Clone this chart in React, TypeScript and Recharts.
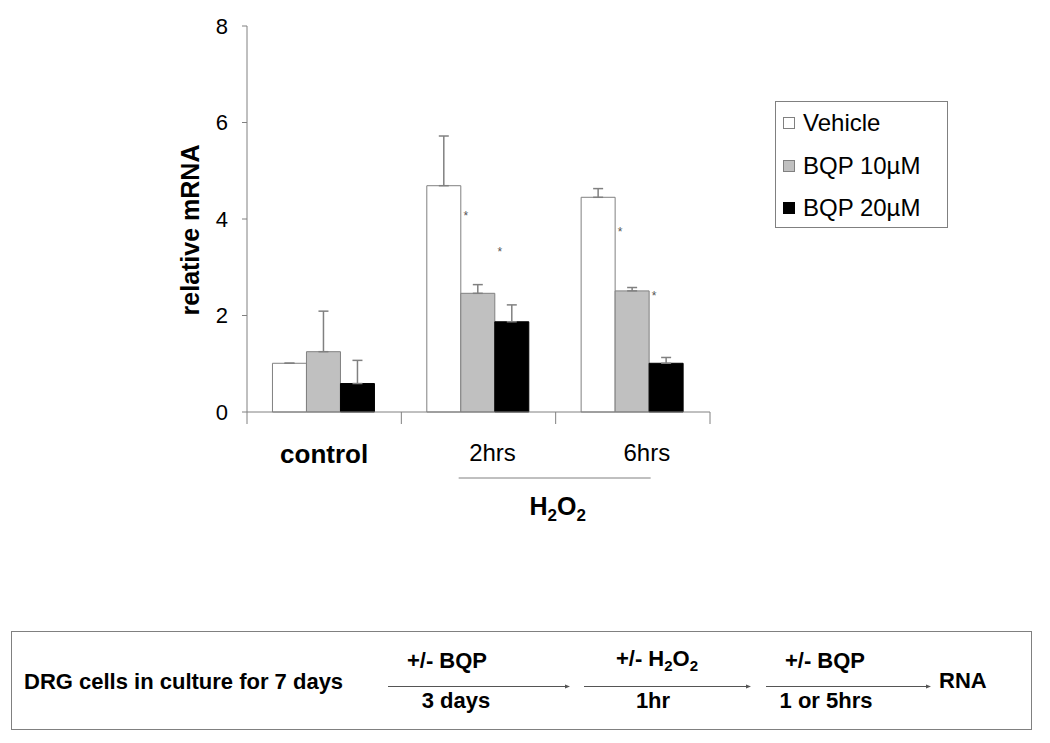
import React from "react";
import { Bar, BarChart, ErrorBar, LabelList, Legend, XAxis, YAxis } from "recharts";

const GROUPS = ["control", "2hrs", "6hrs"];
const VEHICLE = [1.01, 4.69, 4.45];
const VEHICLE_ERR = [0, 1.03, 0.18];
const BQP10 = [1.25, 2.46, 2.51];
const BQP10_ERR = [0.84, 0.18, 0.07];
const BQP20 = [0.59, 1.87, 1.01];
const BQP20_ERR = [0.48, 0.35, 0.12];
// where the significance stars sit, in y units
const VEHICLE_STAR = [null, 4.13, 3.79];
const BQP10_STAR = [null, 3.38, 2.47];
const Y_TICKS = [0, 2, 4, 6, 8];

const AXIS = "#808080";
const FONT = "'Liberation Sans', Arial, sans-serif";
const PLOT_WIDTH = 463;

const SERIES = [
  { key: "vehicle", name: "Vehicle", fill: "#ffffff", stroke: AXIS },
  { key: "bqp10", name: "BQP 10\u00b5M", fill: "#c0c0c0", stroke: AXIS },
  { key: "bqp20", name: "BQP 20\u00b5M", fill: "#000000", stroke: "#000000" },
];

const data = GROUPS.map((group, i) => ({
  group,
  vehicle: VEHICLE[i],
  vehicleErr: [0, VEHICLE_ERR[i]],
  vehicleStar: VEHICLE_STAR[i],
  bqp10: BQP10[i],
  bqp10Err: [0, BQP10_ERR[i]],
  bqp10Star: BQP10_STAR[i],
  bqp20: BQP20[i],
  bqp20Err: [0, BQP20_ERR[i]],
}));

function starRenderer(values: number[]) {
  return (props: any) => {
    const { x, y, width, height, value, index } = props;
    if (value == null) return null;
    const perUnit = height / values[index];
    const sy = y + height - value * perUnit;
    return (
      <text x={x + width + 5} y={sy + 7} textAnchor="middle" fontSize={12} fill="#555">
        *
      </text>
    );
  };
}

function GroupTick(props: any) {
  const { x, y, payload, index, visibleTicksCount } = props;
  const axisWidth = Number(props.width) || PLOT_WIDTH;
  const half = axisWidth / (2 * (visibleTicksCount || GROUPS.length));
  const left = x - half;
  const first = index === 0;
  const last = index === (visibleTicksCount || GROUPS.length) - 1;
  return (
    <g>
      <line x1={left} y1={y} x2={left} y2={y + 12} stroke={AXIS} />
      {last && <line x1={x + half} y1={y} x2={x + half} y2={y + 12} stroke={AXIS} />}
      <text
        x={x + (first ? 0 : 14)}
        y={y + (first ? 51 : 49)}
        textAnchor="middle"
        fontSize={first ? 26 : 24}
        fontWeight={first ? "bold" : "normal"}
        fill="#000"
      >
        {payload.value}
      </text>
      {last && (
        <g>
          <line x1={left - 97} y1={y + 66} x2={left + 95} y2={y + 66} stroke={AXIS} />
          <text x={left + 2} y={y + 103} textAnchor="middle" fontSize={25} fontWeight="bold" fill="#000">
            H<tspan fontSize={17} dy={6}>2</tspan>
            <tspan dy={-6}>O</tspan>
            <tspan fontSize={17} dy={6}>2</tspan>
          </text>
        </g>
      )}
    </g>
  );
}

function ValueTick(props: any) {
  const { x, y, payload } = props;
  return (
    <text x={x} y={y} textAnchor="end" dominantBaseline="central" fontSize={22} fill="#000">
      {payload.value}
    </text>
  );
}

function LegendBox() {
  return (
    <div
      style={{
        boxSizing: "border-box",
        width: 173,
        height: 127,
        border: `1px solid ${AXIS}`,
        background: "#fff",
        position: "relative",
      }}
    >
      {SERIES.map((s, i) => (
        <div
          key={s.key}
          style={{
            position: "absolute",
            left: 7,
            top: 21 + i * 42.5 - 15,
            height: 30,
            display: "flex",
            alignItems: "center",
            whiteSpace: "nowrap",
          }}
        >
          <span
            style={{
              display: "inline-block",
              width: 10,
              height: 10,
              background: s.fill,
              border: `1px solid ${s.stroke}`,
              marginRight: 8,
            }}
          />
          <span style={{ fontSize: 24, color: "#000" }}>{s.name}</span>
        </div>
      ))}
    </div>
  );
}

function Arrow({ x1, x2, y }: { x1: number; x2: number; y: number }) {
  return (
    <g>
      <line x1={x1} y1={y} x2={x2 - 3} y2={y} stroke="#555" />
      <polygon points={`${x2},${y} ${x2 - 5},${y - 2} ${x2 - 5},${y + 2}`} fill="#555" />
    </g>
  );
}

function Protocol() {
  const t = { fontSize: 22, fontWeight: "bold" as const, fill: "#000", textAnchor: "middle" as const };
  return (
    <svg width={1050} height={123} style={{ position: "absolute", left: 0, top: 620 }}>
      <rect x={11.5} y={11.5} width={1020} height={98} fill="#fff" stroke={AXIS} />
      <text x={24} y={69} fontSize={22} fontWeight="bold" fill="#000">
        DRG cells in culture for 7 days
      </text>
      <Arrow x1={388} x2={570} y={66.5} />
      <text {...t} x={447} y={48}>+/- BQP</text>
      <text {...t} x={456} y={88}>3 days</text>
      <Arrow x1={584} x2={751} y={66.5} />
      <text {...t} x={657} y={46}>
        +/- H<tspan fontSize={15} dy={5}>2</tspan>
        <tspan dy={-5}>O</tspan>
        <tspan fontSize={15} dy={5}>2</tspan>
      </text>
      <text {...t} x={653} y={88}>1hr</text>
      <Arrow x1={766} x2={931} y={66.5} />
      <text {...t} x={825} y={48}>+/- BQP</text>
      <text {...t} x={826} y={88}>1 or 5hrs</text>
      <text x={939} y={68} fontSize={22} fontWeight="bold" fill="#000">
        RNA
      </text>
    </svg>
  );
}

export default function App() {
  return (
    <div
      style={{
        position: "absolute",
        left: 0,
        top: 0,
        width: 1050,
        height: 743,
        background: "#fff",
        fontFamily: FONT,
      }}
    >
      <BarChart
        width={1050}
        height={600}
        data={data}
        margin={{ top: 26, right: 340, bottom: 158, left: 187 }}
        barCategoryGap="16.5%"
        barGap={0}
      >
        <XAxis
          dataKey="group"
          interval={0}
          height={30}
          tickSize={0}
          tickMargin={0}
          tickLine={false}
          axisLine={{ stroke: AXIS }}
          tick={(p: any) => <GroupTick {...p} />}
        />
        <YAxis
          domain={[0, 8]}
          ticks={Y_TICKS}
          width={60}
          stroke={AXIS}
          tickSize={5}
          tickMargin={14}
          tick={(p: any) => <ValueTick {...p} />}
          label={{
            content: (p: any) => {
              const vb = p.viewBox;
              const cx = vb.x + 3;
              const cy = vb.y + vb.height / 2 + 11;
              return (
                <text
                  x={cx}
                  y={cy}
                  transform={`rotate(-90, ${cx}, ${cy})`}
                  textAnchor="middle"
                  dominantBaseline="central"
                  fontSize={25}
                  fontWeight="bold"
                  fill="#000"
                >
                  relative mRNA
                </text>
              );
            },
          }}
        />
        <Legend
          layout="horizontal"
          verticalAlign="middle"
          align="center"
          wrapperStyle={{ left: 775, top: 101, width: 173, height: 127 }}
          content={() => <LegendBox />}
        />
        <Bar dataKey="vehicle" name="Vehicle" fill="#ffffff" stroke={AXIS} isAnimationActive={false}>
          <ErrorBar dataKey="vehicleErr" width={5} stroke={AXIS} direction="y" />
          <LabelList dataKey="vehicleStar" content={starRenderer(VEHICLE)} />
        </Bar>
        <Bar dataKey="bqp10" name={"BQP 10\u00b5M"} fill="#c0c0c0" stroke={AXIS} isAnimationActive={false}>
          <ErrorBar dataKey="bqp10Err" width={5} stroke={AXIS} direction="y" />
          <LabelList dataKey="bqp10Star" content={starRenderer(BQP10)} />
        </Bar>
        <Bar dataKey="bqp20" name={"BQP 20\u00b5M"} fill="#000000" stroke="#000000" isAnimationActive={false}>
          <ErrorBar dataKey="bqp20Err" width={5} stroke={AXIS} direction="y" />
        </Bar>
      </BarChart>
      <Protocol />
    </div>
  );
}
